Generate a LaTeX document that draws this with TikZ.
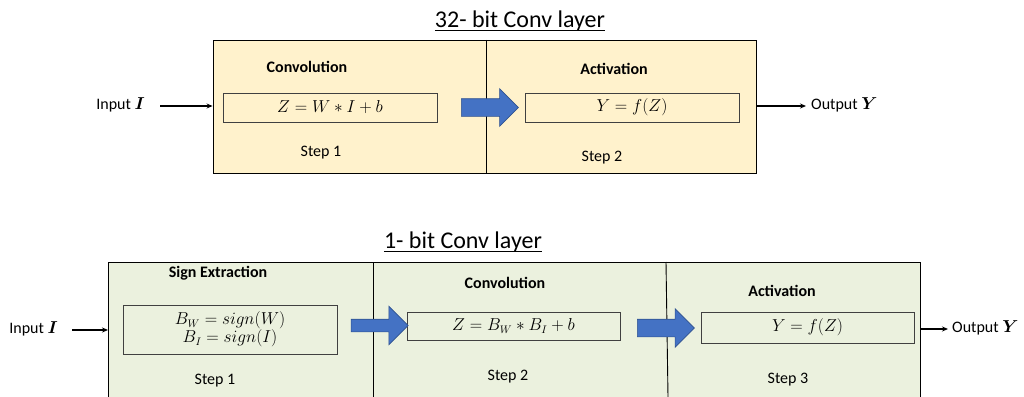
\documentclass[tikz,border=0pt]{standalone}
\usepackage{amsmath}
\usepackage{fontspec}
\setmainfont{Carlito}
\usetikzlibrary{arrows.meta,shapes.arrows}

\definecolor{fillA}{HTML}{FFF2CC}
\definecolor{fillB}{HTML}{EBF1DE}
\definecolor{arrowblue}{HTML}{4472C4}
\definecolor{arrowedge}{HTML}{2F528F}
\definecolor{boxedge}{HTML}{404040}

\tikzset{
  txt/.style={inner sep=0pt, font=\fontsize{16}{19}\selectfont},
  head/.style={inner sep=0pt, font=\fontsize{16}{19}\selectfont\bfseries},
  ttl/.style={inner sep=0pt, font=\fontsize{24}{28}\selectfont},
  eqbox/.style={draw=boxedge, line width=0.9pt, inner sep=0pt, align=center,
    font=\fontsize{16}{19}\selectfont},
  layerbox/.style={draw=black, line width=0.9pt, inner sep=0pt},
  flow/.style={draw=arrowedge, fill=arrowblue, line width=0.6pt,
    shape=single arrow, inner xsep=0pt, single arrow tip angle=90},
  link/.style={line width=1.1pt, -{Stealth[length=6pt,width=5pt]}},
  uline/.style={line width=1pt}
}

\begin{document}
\begin{tikzpicture}[x=1pt,y=-1pt]
\useasboundingbox (0,0) rectangle (1024,396);

% ---------- 32-bit layer ----------
\node[ttl] (t32) at (520,21) {32- bit Conv layer};
\draw[uline] ([yshift=-3pt]t32.base west) -- ([yshift=-3pt]t32.base east);
\node[layerbox, fill=fillA, minimum width=543pt, minimum height=133pt] (top) at (484.5,106.5) {};
\draw[line width=0.9pt] (486,40) -- (486,173);

\node[head] (conv32) at (307,67) {Convolution};
\node[head] (act32) at (614,69) {Activation};
\node[eqbox, minimum width=214pt, minimum height=29pt] (eq1) at (330,107.5) {$Z = W * I + b$};
\node[eqbox, minimum width=214pt, minimum height=29pt] (eq2) at (632,107.5) {$Y = f(Z)$};
\node[txt] (s1a) at (321,153) {Step 1};
\node[txt] (s2a) at (602,158) {Step 2};

\node[flow, minimum height=57pt, inner ysep=8.5pt, single arrow head extend=10pt] (fa) at (485.5,107.5) {};

\node[txt, anchor=east] (in32) at (145,105) {Input $\boldsymbol{I}$};
\coordinate (in32s) at (160,106);
\draw[link] (in32s) -- (in32s -| top.west);
\coordinate (out32e) at (806,106);
\draw[link] (out32e -| top.east) -- (out32e);
\node[txt, anchor=west] (out32) at (811,105) {Output $\boldsymbol{Y}$};

% ---------- 1-bit layer ----------
\node[ttl] (t1) at (463,242) {1- bit Conv layer};
\draw[uline] ([yshift=-3pt]t1.base west) -- ([yshift=-3pt]t1.base east);
\fill[fillB] (108,262) rectangle (920,397);
\draw[line width=0.9pt] (108,397) -- (108,262) coordinate (bl) -- (920,262) -- (920,397);
\coordinate (br) at (920,330);
\draw[line width=0.9pt] (373,262) -- (373,397);
\draw[line width=0.9pt] (666,262) -- (668,397);

\node[head] (sign) at (218,273) {Sign Extraction};
\node[head] (conv1) at (505,283) {Convolution};
\node[head] (act1) at (782,291) {Activation};

\node[eqbox, minimum width=214pt, minimum height=49pt] (eq3) at (230,329.5)
  {$B_W = sign(W)$\\[-1pt] $B_I = sign(I)$};
\node[eqbox, minimum width=213pt, minimum height=28pt] (eq4) at (513.5,326) {$Z = B_W * B_I + b$};
\node[eqbox, minimum width=213pt, minimum height=31pt] (eq5) at (807.5,327.5) {$Y = f(Z)$};

\node[txt] (s1b) at (215,381) {Step 1};
\node[txt] (s2b) at (508,377) {Step 2};
\node[txt] (s3b) at (788,380) {Step 3};

\node[flow, minimum height=57pt, inner ysep=6pt, single arrow head extend=13pt] (fb) at (376.5,325.5) {};
\node[flow, minimum height=57pt, inner ysep=8.5pt, single arrow head extend=10.5pt] (fc) at (661.5,328) {};

\node[txt, anchor=east] (in1) at (58,329) {Input $\boldsymbol{I}$};
\coordinate (in1s) at (72,330);
\draw[link] (in1s) -- (in1s -| bl);
\coordinate (out1e) at (948,329);
\draw[link] (out1e -| br) -- (out1e);
\node[txt, anchor=west] (out1) at (952,328) {Output $\boldsymbol{Y}$};
\end{tikzpicture}
\end{document}
